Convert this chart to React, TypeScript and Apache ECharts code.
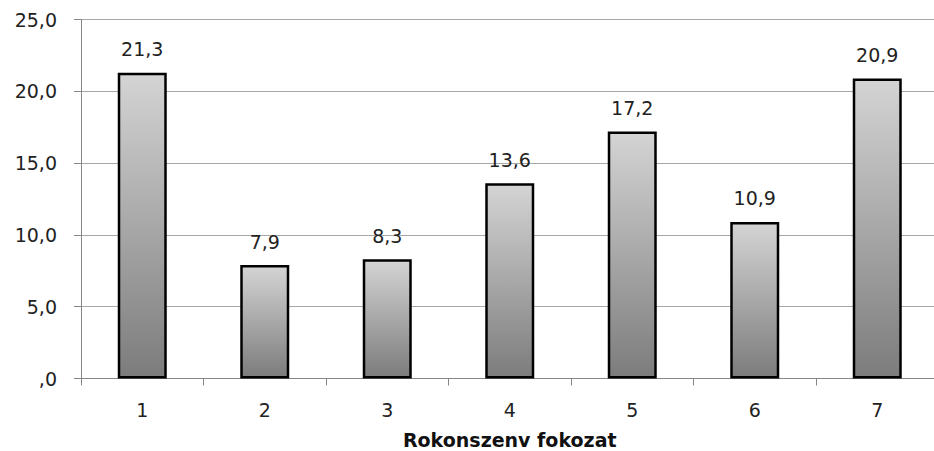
import React, { useEffect, useRef } from "react";
import * as echarts from "echarts";

const categories = ["1", "2", "3", "4", "5", "6", "7"];
const values = [21.3, 7.9, 8.3, 13.6, 17.2, 10.9, 20.9];
const yTicks = [0, 5, 10, 15, 20, 25];
const xAxisTitle = "Rokonszenv fokozat";

const fmt = (v: number) => {
  const s = v.toFixed(1).replace(".", ",");
  return s.startsWith("0,") ? s.slice(1) : s;
};

export default function App() {
  const ref = useRef<HTMLDivElement>(null);
  useEffect(() => {
    if (!ref.current) return;
    const chart = echarts.init(ref.current, null, { renderer: "svg" });
    chart.setOption({
      animation: false,
      backgroundColor: "#ffffff",
      textStyle: { fontFamily: "DejaVu Sans" },
      grid: {
        left: 81,
        right: -4.5,
        top: 19.5,
        bottom: 72.5,
        containLabel: false,
        outerBoundsMode: "none",
      },
      xAxis: {
        type: "category",
        data: categories,
        boundaryGap: true,
        axisLine: { lineStyle: { color: "#868686", width: 1 } },
        axisTick: { show: true, length: 7, lineStyle: { color: "#868686" }, alignWithLabel: false },
        axisLabel: { color: "#222", fontSize: 19, margin: 22, fontFamily: "DejaVu Sans" },
        name: xAxisTitle,
        nameLocation: "middle",
        nameGap: 52,
        nameTextStyle: { color: "#111", fontSize: 19, fontWeight: "bold", fontFamily: "DejaVu Sans" },
      },
      yAxis: {
        type: "value",
        min: yTicks[0],
        max: yTicks[yTicks.length - 1],
        interval: 5,
        axisLine: { show: true, lineStyle: { color: "#868686", width: 1 } },
        axisTick: { show: true, length: 7, lineStyle: { color: "#868686" } },
        splitLine: { show: true, lineStyle: { color: "#a8a8a8", width: 1 } },
        axisLabel: {
          color: "#222",
          fontSize: 19,
          margin: 24,
          fontFamily: "DejaVu Sans",
          formatter: (v: number) => fmt(v),
        },
      },
      series: [
        {
          type: "bar",
          data: values,
          barWidth: "40%",
          itemStyle: {
            color: new echarts.graphic.LinearGradient(0, 0, 0, 1, [
              { offset: 0, color: "#d4d4d4" },
              { offset: 1, color: "#7c7c7c" },
            ]),
            borderColor: "#000000",
            borderWidth: 2.5,
          },
          label: {
            show: true,
            position: "top",
            distance: 14,
            color: "#222",
            fontSize: 19,
            fontFamily: "DejaVu Sans",
            formatter: (p: any) => fmt(p.value),
          },
        },
      ],
    });
    return () => chart.dispose();
  }, []);
  return (
    <div
      ref={ref}
      style={{ position: "fixed", left: 0, top: 0, width: 934, height: 451 }}
    />
  );
}
